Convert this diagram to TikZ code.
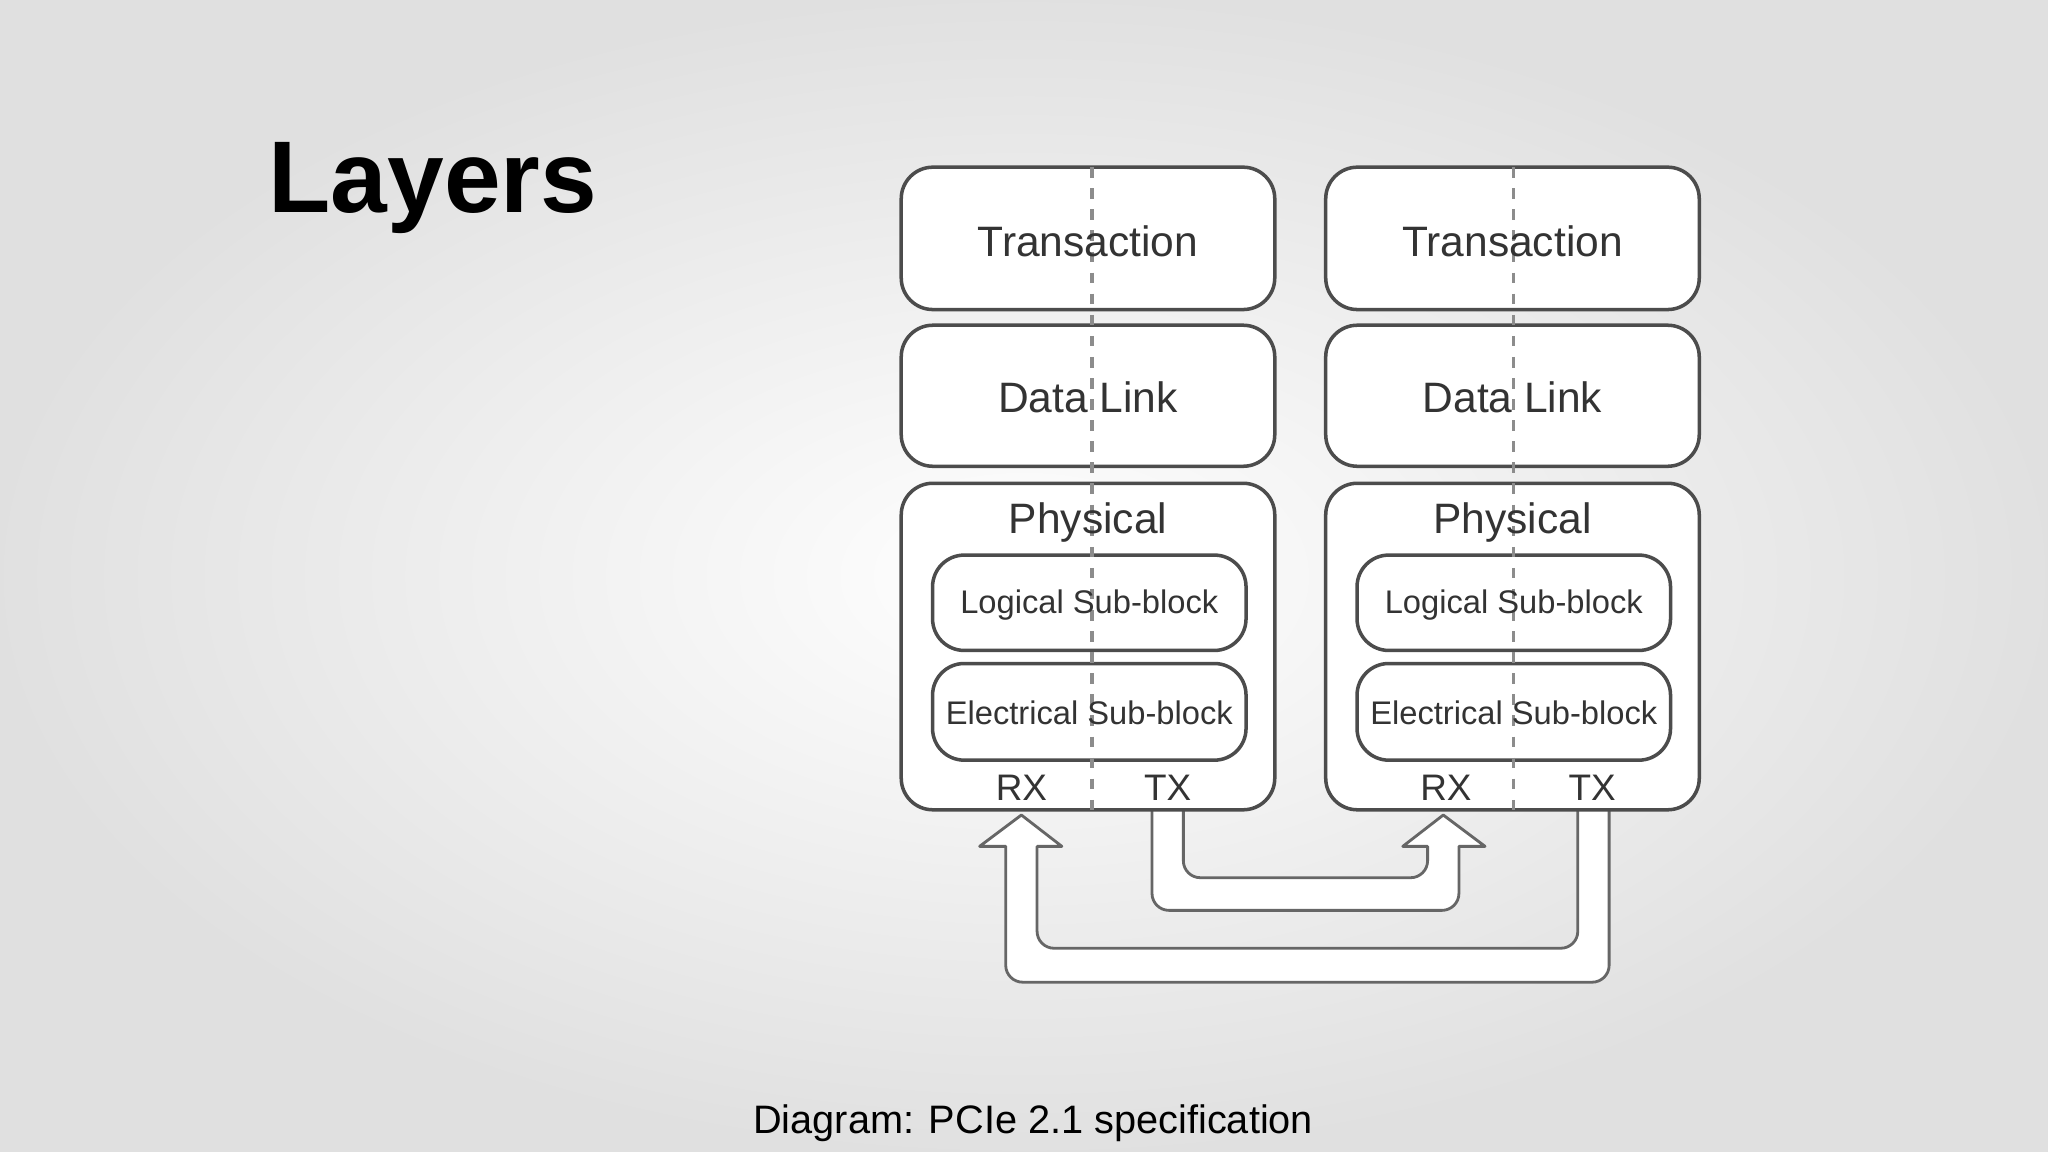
\documentclass[tikz,border=0pt]{standalone}
\usepackage{fontspec}
\setmainfont{Liberation Sans}
\begin{document}
\begin{tikzpicture}[x=0.01306cm,y=-0.01306cm,
  box/.style={draw=black!70,line width=1pt,rounded corners=9pt},
  lbl/.style={text=black!80,font=\fontsize{12.1}{14}\selectfont},
  sub/.style={text=black!80,font=\fontsize{9.3}{11}\selectfont},
  midline/.style={draw=black!45,dashed,line width=0.9pt},
  arr/.style={draw=black!60,line width=0.8pt,fill=white,line join=round}]
\path[inner color=white,outer color=black!12] (0,0) rectangle (1568,882);
\useasboundingbox (0,0) rectangle (1568,882);
\node[anchor=base west,font=\bfseries\fontsize{29}{32}\selectfont] (title) at (196,163) {Layers};
\node[anchor=base,font=\fontsize{11.3}{13}\selectfont] (cap) at (791,868) {Diagram: PCIe 2.1 specification};
% arrows
\draw[arr] (882,621) -- (882,684) arc[start angle=180,end angle=90,radius=13] -- (1104,697) arc[start angle=90,end angle=0,radius=13] -- (1117,648) -- (1137,648) -- (1105,624) -- (1074,648) -- (1093,648) -- (1093,659) arc[start angle=0,end angle=90,radius=13] -- (919,672) arc[start angle=90,end angle=180,radius=13] -- (906,621);
\draw[arr] (1232,621) -- (1232,739) arc[start angle=0,end angle=90,radius=13] -- (783,752) arc[start angle=90,end angle=180,radius=13] -- (770,648) -- (750,648) -- (782,624) -- (813,648) -- (794,648) -- (794,713) arc[start angle=180,end angle=90,radius=13] -- (1195,726) arc[start angle=90,end angle=0,radius=13] -- (1208,621);
\foreach \n/\x/\d in {L/690/836,R/1015/1159}{
  \draw[box,fill=white] (\x,128) rectangle ++(286,109);
  \draw[box,fill=white] (\x,249) rectangle ++(286,108);
  \draw[box,fill=white] (\x,370) rectangle ++(286,250);
  \draw[box,fill=white] (\x+24,425) rectangle ++(240,73);
  \draw[box,fill=white] (\x+24,508) rectangle ++(240,74);
  \draw[midline] (\d,128) -- (\d,620);
  \node[lbl] (tr\n) at (\x+143,185) {Transaction};
  \node[lbl] (dl\n) at (\x+143,304) {Data Link};
  \node[lbl] (ph\n) at (\x+143,400) {Physical};
  \node[sub] (lo\n) at (\x+144,463) {Logical Sub-block};
  \node[sub] (el\n) at (\x+144,546) {Electrical Sub-block};
  \node[sub,font=\fontsize{10.5}{12}\selectfont] (rx\n) at (\x+92,603) {RX};
  \node[sub,font=\fontsize{10.5}{12}\selectfont] (tx\n) at (\x+204,603) {TX};
}
\end{tikzpicture}
\end{document}
